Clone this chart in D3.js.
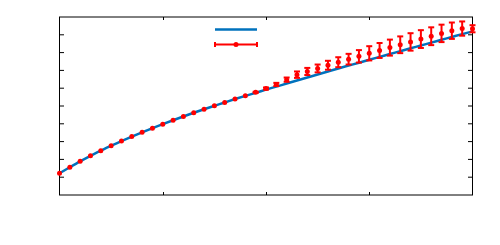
<!DOCTYPE html>
<html>
<head>
<meta charset="utf-8">
<script src="https://cdn.jsdelivr.net/npm/d3@7"></script>
<style>
  body { margin: 0; background: #fff; }
  svg { display: block; }
</style>
</head>
<body>
<svg id="chart" width="500" height="245"></svg>
<script>
// x positions (shared by both series)
const xs = [0, 1, 2, 3, 4, 5, 6, 7, 8, 9, 10, 11, 12, 13, 14, 15, 16, 17, 18, 19, 20,
            21, 22, 23, 24, 25, 26, 27, 28, 29, 30, 31, 32, 33, 34, 35, 36, 37, 38, 39, 40];
// model curve (blue)
const model = [1.22, 1.56, 1.89, 2.20, 2.49, 2.77, 3.03, 3.28, 3.52, 3.75, 3.98,
               4.20, 4.41, 4.62, 4.82, 5.01, 5.20, 5.39, 5.57, 5.74, 5.92,
               6.09, 6.26, 6.43, 6.60, 6.77, 6.94, 7.11, 7.27, 7.43, 7.60,
               7.76, 7.92, 8.08, 8.24, 8.40, 8.56, 8.72, 8.88, 9.04, 9.19];
// measured points (red) and their error half-widths
const measured = [1.22, 1.56, 1.89, 2.20, 2.49, 2.77, 3.03, 3.28, 3.52, 3.75, 3.98,
                  4.20, 4.41, 4.62, 4.82, 5.01, 5.20, 5.39, 5.57, 5.77, 5.98,
                  6.21, 6.48, 6.76, 6.94, 7.11, 7.29, 7.46, 7.63, 7.79, 7.96,
                  8.12, 8.28, 8.44, 8.60, 8.76, 8.92, 9.08, 9.23, 9.35, 9.34];
const errs = [0, 0, 0, 0, 0, 0, 0, 0, 0, 0, 0,
              0, 0, 0, 0, 0, 0, 0, 0, 0.03, 0.06,
              0.09, 0.12, 0.18, 0.20, 0.22, 0.25, 0.28, 0.30, 0.35, 0.40,
              0.42, 0.45, 0.47, 0.49, 0.50, 0.50, 0.49, 0.46, 0.40, 0.20];
const xTicks = [0, 10, 20, 30, 40];
const yTicks = [1, 2, 3, 4, 5, 6, 7, 8, 9];

const blue = "#0072BD", red = "#ff0000";
const svg = d3.select("#chart");

const x = d3.scaleLinear().domain([0, 40]).range([59.5, 472.5]);
const y = d3.scaleLinear().domain([0, 10]).range([195, 17]);

// frame
const frame = svg.append("g");
frame.append("line").attr("x1", 59).attr("x2", 473).attr("y1", 17).attr("y2", 17)
  .attr("stroke", "#000").attr("stroke-width", 1);
frame.append("line").attr("x1", 59).attr("x2", 473).attr("y1", 195).attr("y2", 195)
  .attr("stroke", "#000").attr("stroke-width", 1);
frame.append("line").attr("x1", 59.5).attr("x2", 59.5).attr("y1", 17).attr("y2", 195)
  .attr("stroke", "#000").attr("stroke-width", 1);
frame.append("line").attr("x1", 472.5).attr("x2", 472.5).attr("y1", 17).attr("y2", 195)
  .attr("stroke", "#000").attr("stroke-width", 1);

// ticks (inward)
frame.selectAll(".xtb").data(xTicks.slice(1, -1)).enter().append("line")
  .attr("x1", d => Math.round(x(d)) + 0.5).attr("x2", d => Math.round(x(d)) + 0.5)
  .attr("y1", 195).attr("y2", 192).attr("stroke", "#000");
frame.selectAll(".xtt").data(xTicks.slice(1, -1)).enter().append("line")
  .attr("x1", d => Math.round(x(d)) + 0.5).attr("x2", d => Math.round(x(d)) + 0.5)
  .attr("y1", 17).attr("y2", 20).attr("stroke", "#000");
frame.selectAll(".ytl").data(yTicks).enter().append("line")
  .attr("x1", 59.5).attr("x2", 64).attr("y1", d => y(d)).attr("y2", d => y(d))
  .attr("stroke", "#000");
frame.selectAll(".ytr").data(yTicks).enter().append("line")
  .attr("x1", 468).attr("x2", 472.5).attr("y1", d => y(d)).attr("y2", d => y(d))
  .attr("stroke", "#000");

// blue model line
const line = d3.line().x((d, i) => x(xs[i])).y(d => y(d)).curve(d3.curveMonotoneX);
svg.append("path").datum(model).attr("d", line)
  .attr("fill", "none").attr("stroke", blue).attr("stroke-width", 2.5);

// red error bars
const eb = svg.append("g").attr("stroke", red).attr("stroke-width", 2);
xs.forEach((xv, i) => {
  if (errs[i] <= 0) return;
  const cx = x(xv), top = y(measured[i] + errs[i]), bot = y(measured[i] - errs[i]);
  eb.append("line").attr("x1", cx).attr("x2", cx).attr("y1", top).attr("y2", bot);
  eb.append("line").attr("x1", cx - 3).attr("x2", cx + 3).attr("y1", top).attr("y2", top);
  eb.append("line").attr("x1", cx - 3).attr("x2", cx + 3).attr("y1", bot).attr("y2", bot);
});
svg.append("g").selectAll("circle").data(measured).enter().append("circle")
  .attr("cx", (d, i) => x(xs[i])).attr("cy", d => y(d)).attr("r", 2.5)
  .attr("fill", red);

// legend
const lg = svg.append("g");
lg.append("line").attr("x1", 215).attr("x2", 257).attr("y1", 29.5).attr("y2", 29.5)
  .attr("stroke", blue).attr("stroke-width", 2.5);
lg.append("line").attr("x1", 215).attr("x2", 257).attr("y1", 44.5).attr("y2", 44.5)
  .attr("stroke", red).attr("stroke-width", 2);
lg.append("line").attr("x1", 215).attr("x2", 215).attr("y1", 42).attr("y2", 47)
  .attr("stroke", red).attr("stroke-width", 2);
lg.append("line").attr("x1", 257).attr("x2", 257).attr("y1", 42).attr("y2", 47)
  .attr("stroke", red).attr("stroke-width", 2);
lg.append("circle").attr("cx", 236).attr("cy", 44.5).attr("r", 2.5).attr("fill", red);
</script>
</body>
</html>
